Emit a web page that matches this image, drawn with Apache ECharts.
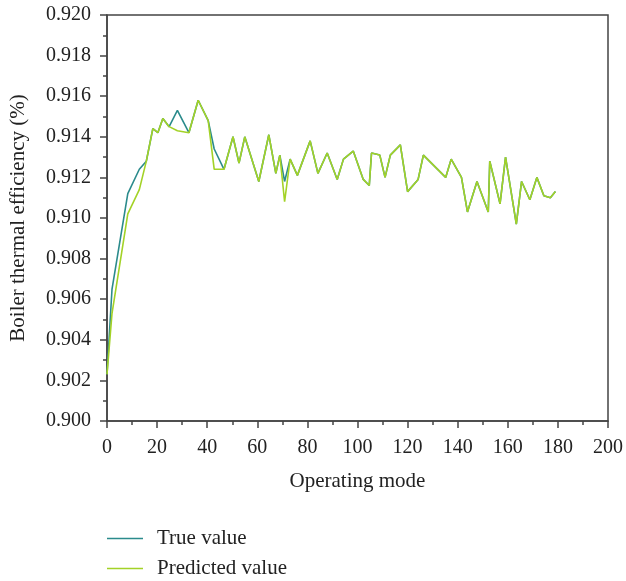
<!DOCTYPE html>
<html>
<head>
<meta charset="utf-8">
<script src="https://cdn.jsdelivr.net/npm/echarts@6/dist/echarts.min.js"></script>
<style>html,body{margin:0;padding:0;background:#fff}#c{width:626px;height:581px}</style>
</head>
<body>
<div id="c"></div>
<script>
const modes = [0, 2, 8.3, 12.9, 15.7, 18.3, 20.3, 22.3, 24.8, 28.1, 32.7, 36.4, 40.4, 42.8, 46.7, 50.3, 52.7, 55.0, 60.6, 64.6, 67.4, 69.0, 70.9, 73.1, 76.0, 81.1, 84.2, 87.9, 91.9, 94.4, 98.3, 102.3, 104.7, 105.6, 108.9, 111.0, 113.1, 117.1, 120.0, 124.2, 126.3, 135.2, 137.4, 141.5, 143.9, 147.7, 152.2, 152.8, 156.9, 159.1, 163.4, 165.5, 168.8, 171.6, 174.4, 177.0, 179.0];
const trueValue = [0.9023, 0.9065, 0.9112, 0.9124, 0.9128, 0.9144, 0.9142, 0.9149, 0.9145, 0.9153, 0.9142, 0.9158, 0.9148, 0.9134, 0.9124, 0.9140, 0.9127, 0.9140, 0.9118, 0.9141, 0.9122, 0.9131, 0.9118, 0.9129, 0.9121, 0.9138, 0.9122, 0.9132, 0.9119, 0.9129, 0.9133, 0.9119, 0.9116, 0.9132, 0.9131, 0.9120, 0.9131, 0.9136, 0.9113, 0.9119, 0.9131, 0.9120, 0.9129, 0.9120, 0.9103, 0.9118, 0.9103, 0.9128, 0.9107, 0.9130, 0.9097, 0.9118, 0.9109, 0.9120, 0.9111, 0.9110, 0.9113];
const predictedValue = [0.9023, 0.9053, 0.9102, 0.9114, 0.9128, 0.9144, 0.9142, 0.9149, 0.9145, 0.9143, 0.9142, 0.9158, 0.9148, 0.9124, 0.9124, 0.9140, 0.9127, 0.9140, 0.9118, 0.9141, 0.9122, 0.9131, 0.9108, 0.9129, 0.9121, 0.9138, 0.9122, 0.9132, 0.9119, 0.9129, 0.9133, 0.9119, 0.9116, 0.9132, 0.9131, 0.9120, 0.9131, 0.9136, 0.9113, 0.9119, 0.9131, 0.9120, 0.9129, 0.9120, 0.9103, 0.9118, 0.9103, 0.9128, 0.9107, 0.9130, 0.9097, 0.9118, 0.9109, 0.9120, 0.9111, 0.9110, 0.9113];
const seriesNames = ['True value', 'Predicted value'];
const xTitle = 'Operating mode';
const yTitle = 'Boiler thermal efficiency (%)';

const FONT = 'Liberation Serif';
const AX = '#444';
const txt = '#222';
const pairs = (ys) => modes.map((m, i) => [m, ys[i]]);

const legendBase = {
  orient: 'vertical', left: 107, itemWidth: 36, itemHeight: 1.5, padding: 0,
  icon: 'rect',
  textStyle: {fontFamily: FONT, fontSize: 21, color: txt, padding: [0, 0, 0, 9]}
};

const chart = echarts.init(document.getElementById('c'), null, {renderer: 'canvas'});
chart.setOption({
  animation: false,
  backgroundColor: '#fff',
  grid: {left: 107, right: 14, top: 15, bottom: 160, show: true, borderColor: AX, borderWidth: 1.5, backgroundColor: 'transparent'},
  xAxis: {
    type: 'value', min: 0, max: 200, interval: 20,
    name: xTitle, nameLocation: 'middle', nameGap: 50,
    nameTextStyle: {fontFamily: FONT, fontSize: 21, color: txt},
    axisLine: {show: true, lineStyle: {color: AX, width: 1.5}},
    axisTick: {show: true, length: 7, lineStyle: {color: AX, width: 1.5}},
    minorTick: {show: true, splitNumber: 2, length: 4, lineStyle: {color: AX, width: 1.5}},
    splitLine: {show: false},
    axisLabel: {fontFamily: FONT, fontSize: 20, color: txt, margin: 17}
  },
  yAxis: {
    type: 'value', min: 0.9, max: 0.92, interval: 0.002,
    name: yTitle, nameLocation: 'middle', nameGap: 78, nameRotate: 90,
    nameTextStyle: {fontFamily: FONT, fontSize: 21, color: txt},
    axisLine: {show: true, lineStyle: {color: AX, width: 1.5}},
    axisTick: {show: true, length: 7, lineStyle: {color: AX, width: 1.5}},
    minorTick: {show: true, splitNumber: 2, length: 4, lineStyle: {color: AX, width: 1.5}},
    splitLine: {show: false},
    axisLabel: {fontFamily: FONT, fontSize: 20, color: txt, margin: 16, formatter: v => v.toFixed(3)}
  },
  legend: [
    Object.assign({}, legendBase, {top: 528, data: [seriesNames[0]]}),
    Object.assign({}, legendBase, {top: 558, data: [seriesNames[1]]})
  ],
  series: [
    {name: seriesNames[0], type: 'line', data: pairs(trueValue), symbol: 'none',
     lineStyle: {color: '#2b8b8c', width: 1.6}, itemStyle: {color: '#2b8b8c'}, z: 2},
    {name: seriesNames[1], type: 'line', data: pairs(predictedValue), symbol: 'none',
     lineStyle: {color: '#a3d227', width: 1.6}, itemStyle: {color: '#a3d227'}, z: 3}
  ]
});
</script>
</body>
</html>
